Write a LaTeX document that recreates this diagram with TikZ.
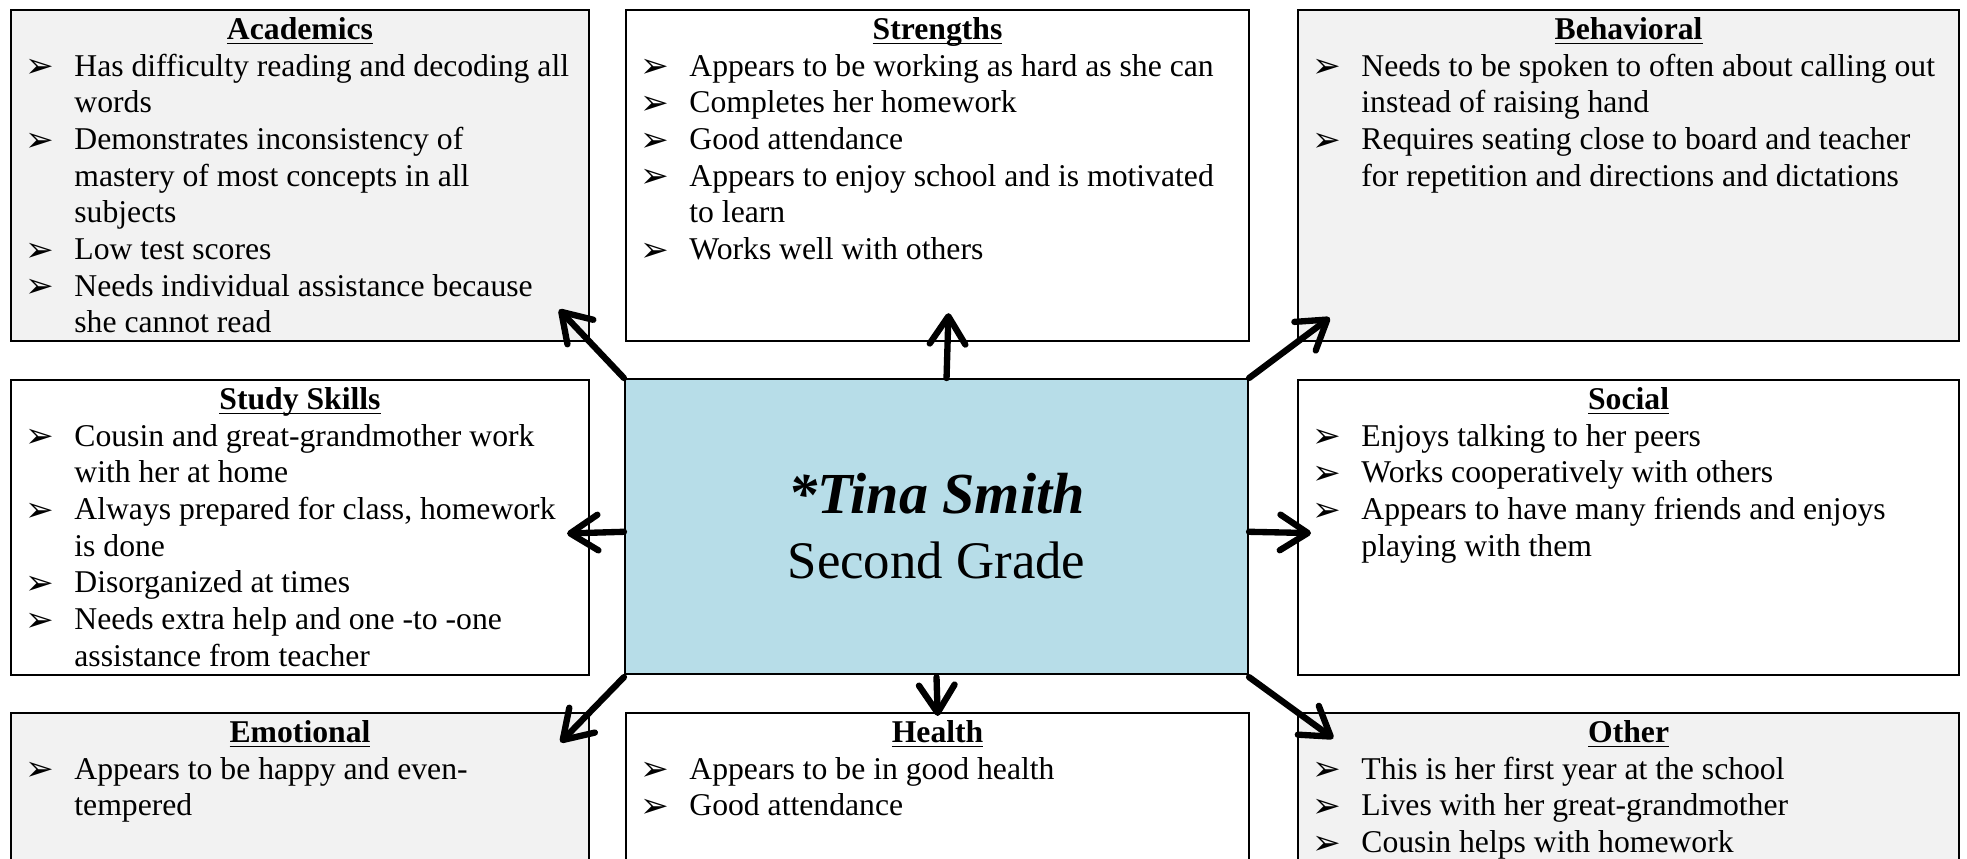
\documentclass[tikz,border=0pt]{standalone}
\usepackage{fontspec}
\setmainfont{Liberation Serif}
\newfontfamily\dingfont{DejaVu Sans}
\usetikzlibrary{arrows.meta}
\definecolor{boxgrey}{HTML}{F2F2F2}
\definecolor{nameblue}{HTML}{B7DDE8}

\newcommand{\bul}{\raisebox{-0.6pt}{\dingfont\fontsize{13}{13}\selectfont ➢}}
\newcommand{\itm}[1]{\par\hangindent=24pt\hangafter=1\noindent\makebox[24pt][l]{\hspace{5.6pt}\bul}#1}
\newcommand{\ttl}[1]{{\centering\rule{0pt}{11.1pt}\underline{\smash{\textbf{#1}}}\par}}
\newcommand{\boxtext}[4]{\parbox[c][#2][t]{#1}{\fontsize{12}{13.9}\selectfont\ttl{#3}\raggedright#4}}

\tikzset{
  infobox/.style={draw, line width=0.8pt, anchor=north west, inner sep=0pt},
  spoke/.style={line width=2.4pt, line cap=round, -{Straight Barb[length=10.5pt,width=13.5pt,round]}}
}

\begin{document}
\begin{tikzpicture}[x=0.3788pt, y=-0.3788pt]
\useasboundingbox (0,0) rectangle (1967,858);

% top row
\node[infobox, fill=boxgrey] (acad) at (10,9) {\boxtext{218.9pt}{125.4pt}{Academics}{%
  \itm{Has difficulty reading and decoding all\newline words}
  \itm{Demonstrates inconsistency of\newline mastery of most concepts in all\newline subjects}
  \itm{Low test scores}
  \itm{Needs individual assistance because\newline she cannot read}}};
\node[infobox, fill=white] (strg) at (625,9) {\boxtext{236pt}{125.4pt}{Strengths}{%
  \itm{Appears to be working as hard as she can}
  \itm{Completes her homework}
  \itm{Good attendance}
  \itm{Appears to enjoy school and is motivated\newline to learn}
  \itm{Works well with others}}};
\node[infobox, fill=boxgrey] (behv) at (1297,9) {\boxtext{250.4pt}{125.4pt}{Behavioral}{%
  \itm{Needs to be spoken to often about calling out\newline instead of raising hand}
  \itm{Requires seating close to board and teacher\newline for repetition and directions and dictations}}};

% middle row
\node[infobox, fill=white] (stud) at (10,379) {\boxtext{218.9pt}{111.7pt}{Study Skills}{%
  \itm{Cousin and great-grandmother work\newline with her at home}
  \itm{Always prepared for class, homework\newline is done}
  \itm{Disorganized at times}
  \itm{Needs extra help and one -to -one\newline assistance from teacher}}};
\node[draw, line width=0.8pt, fill=nameblue, minimum width=236pt, minimum height=111.7pt,
  inner sep=0pt, align=center, font=\fontsize{22}{24.6}\selectfont] (ctr) at (936.5,526.5)
  {\textbf{\textit{*Tina Smith}}\\\fontsize{20}{24.6}\selectfont Second Grade};
\node[infobox, fill=white] (socl) at (1297,379) {\boxtext{250.4pt}{111.7pt}{Social}{%
  \itm{Enjoys talking to her peers}
  \itm{Works cooperatively with others}
  \itm{Appears to have many friends and enjoys\newline playing with them}}};

% bottom row (runs off the page)
\node[infobox, fill=boxgrey] (emot) at (10,712) {\boxtext{218.9pt}{75pt}{Emotional}{%
  \itm{Appears to be happy and even-\newline tempered}}};
\node[infobox, fill=white] (hlth) at (625,712) {\boxtext{236pt}{75pt}{Health}{%
  \itm{Appears to be in good health}
  \itm{Good attendance}}};
\node[infobox, fill=boxgrey] (othr) at (1297,712) {\boxtext{250.4pt}{75pt}{Other}{%
  \itm{This is her first year at the school}
  \itm{Lives with her great-grandmother}
  \itm{Cousin helps with homework}}};

% arrows out of the centre
\draw[spoke, shorten >=-17pt] (ctr.north west) -- (acad.south east);
\draw[spoke, shorten >=-11pt] ([xshift=3.8pt]ctr.north) -- ([xshift=3.8pt]strg.south);
\draw[spoke, shorten >=-15.5pt] (ctr.north east) -- (behv.south west);
\draw[spoke, shorten >=-8.7pt] ([yshift=-2pt]ctr.west) -- ([yshift=-2pt]stud.east);
\draw[spoke, shorten >=-5.3pt] ([yshift=-2pt]ctr.east) -- ([yshift=-2pt]socl.west);
\draw[spoke, shorten >=-16pt] ([yshift=-0.8pt]ctr.south west) -- (emot.north east);
\draw[spoke, shorten >=-1.5pt] ([yshift=-0.8pt]ctr.south) -- (hlth.north);
\draw[spoke, shorten >=-17pt] ([yshift=-0.8pt]ctr.south east) -- (othr.north west);
\end{tikzpicture}
\end{document}
